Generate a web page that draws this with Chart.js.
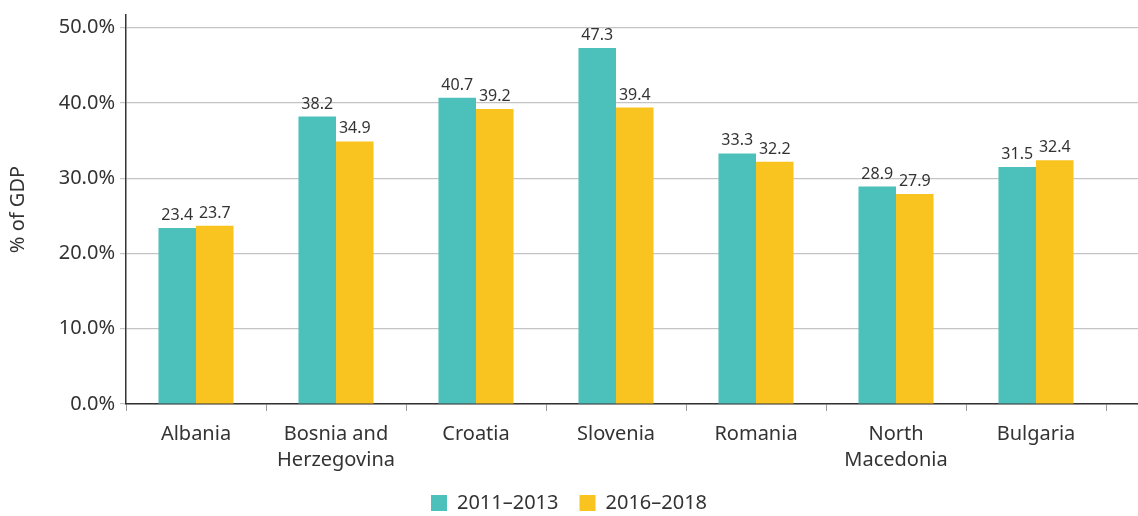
<!DOCTYPE html>
<html>
<head>
<meta charset="utf-8">
<script src="https://cdn.jsdelivr.net/npm/chart.js@4.4.1/dist/chart.umd.min.js"></script>
<style>
  html, body { margin: 0; padding: 0; background: #fff; }
  #wrap { width: 1138px; height: 516px; }
</style>
</head>
<body>
<div id="wrap"><canvas id="chart"></canvas></div>
<script>
const countries = ['Albania', ['Bosnia and', 'Herzegovina'], 'Croatia', 'Slovenia', 'Romania', ['North', 'Macedonia'], 'Bulgaria'];
const period1 = [23.4, 38.2, 40.7, 47.3, 33.3, 28.9, 31.5];
const period2 = [23.7, 34.9, 39.2, 39.4, 32.2, 27.9, 32.4];
const seriesLabels = ['2011\u20132013', '2016\u20132018'];
const yTicks = [0, 10, 20, 30, 40, 50];

const textColor = '#333333';
const fontFamily = '"Noto Sans", "Open Sans", sans-serif';
const mainFont = { family: fontFamily, size: 20, lineHeight: 1.3 };
const yFont = { family: fontFamily, size: 20, lineHeight: 1 };

// draws the value above each bar
const valueLabels = {
    id: 'valueLabels',
    afterDatasetsDraw(chart) {
        const ctx = chart.ctx;
        ctx.save();
        ctx.font = '16px ' + fontFamily;
        ctx.fillStyle = textColor;
        ctx.textAlign = 'center';
        ctx.textBaseline = 'alphabetic';
        chart.data.datasets.forEach((ds, i) => {
            chart.getDatasetMeta(i).data.forEach((bar, j) => {
                ctx.fillText(ds.data[j].toFixed(1), bar.x, bar.y - 8);
            });
        });
        ctx.restore();
    }
};

const data = {
    labels: countries,
    datasets: [
        { label: seriesLabels[0], data: period1, backgroundColor: '#4cc1bc' },
        { label: seriesLabels[1], data: period2, backgroundColor: '#f9c320' }
    ]
};

new Chart(document.getElementById('chart'), {
    type: 'bar',
    data: data,
    plugins: [valueLabels],
    options: {
        responsive: true,
        maintainAspectRatio: false,
        animation: false,
        datasets: { bar: { categoryPercentage: 0.536, barPercentage: 1 } },
        layout: { padding: { top: 13, right: 0, left: 0, bottom: -7 } },
        plugins: {
            legend: {
                position: 'bottom',
                labels: { boxWidth: 16, boxHeight: 16, padding: 21, font: mainFont, color: textColor }
            },
            tooltip: { enabled: false }
        },
        scales: {
            x: {
                // chart area runs past the last category, as in the original
                afterBuildTicks(s) { s._valueRange = 7 * 1012 / 980; },
                afterFit(s) { s.height = 68; },
                grid: { drawOnChartArea: false, offset: true, tickLength: 7, color: '#999' },
                border: { color: '#333', width: 1.5 },
                ticks: { padding: 10, maxRotation: 0, autoSkip: false, font: mainFont, color: textColor }
            },
            y: {
                min: 0,
                max: 51.7,
                afterFit(s) { s.width = 126; },
                afterBuildTicks(s) { s.ticks = yTicks.map(v => ({ value: v })); },
                grid: { color: '#c4c4c4', tickLength: 6, lineWidth: 1.2 },
                border: { color: '#333', width: 1.5 },
                ticks: { padding: 5, font: yFont, color: textColor, callback: v => v.toFixed(1) + '%' },
                title: { display: true, text: '% of GDP', font: mainFont, color: textColor, padding: { top: 5, bottom: 0 } }
            }
        }
    }
});
</script>
</body>
</html>
